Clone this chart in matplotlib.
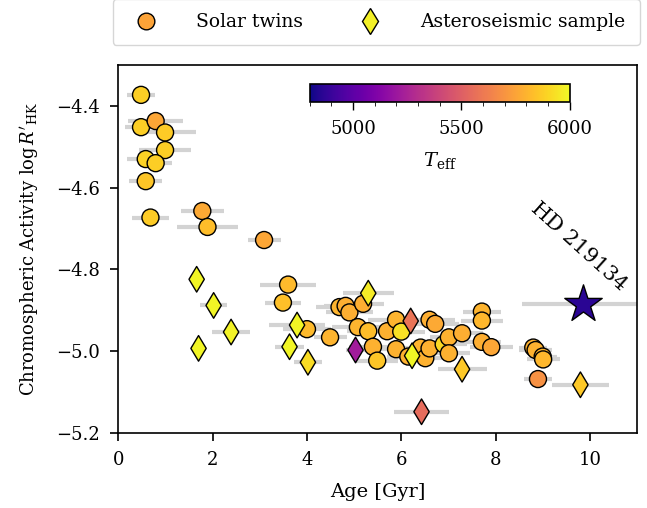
import numpy as np
import matplotlib
matplotlib.use("Agg")
import matplotlib.pyplot as plt
from matplotlib.lines import Line2D
from matplotlib.ticker import MultipleLocator

plt.rcParams['font.family'] = ['DejaVu Serif']
plt.rcParams['mathtext.fontset'] = 'dejavuserif'

# Solar twins: age [Gyr], age error, log R'HK, Teff
twin_age = [0.48, 0.48, 0.79, 0.99, 0.99, 0.58, 0.79, 0.58, 0.68, 1.78, 1.89, 3.09,
            3.60, 3.49, 4.00, 4.49, 4.69, 4.82, 4.90, 5.19, 5.08, 5.30, 5.40, 5.49,
            5.70, 5.89, 5.89, 6.00, 6.15, 6.41, 6.51, 6.60, 6.72, 6.60, 6.90, 7.01,
            7.01, 7.29, 7.71, 7.71, 7.71, 7.91, 8.80, 8.85, 9.00, 9.01, 8.90]
twin_err = [0.30, 0.35, 0.58, 0.65, 0.55, 0.40, 0.35, 0.35, 0.40, 0.45, 0.64, 0.35,
            0.60, 0.38, 0.50, 0.35, 0.50, 0.45, 0.50, 0.45, 0.55, 0.45, 0.50, 0.45,
            0.50, 0.60, 0.55, 0.50, 0.45, 0.50, 0.45, 0.55, 0.50, 0.40, 0.50, 0.40,
            0.45, 0.45, 0.40, 0.45, 0.40, 0.45, 0.30, 0.35, 0.30, 0.35, 0.30]
twin_rhk = [-4.373, -4.452, -4.437, -4.465, -4.508, -4.530, -4.540, -4.584, -4.673,
            -4.657, -4.696, -4.728, -4.837, -4.881, -4.946, -4.966, -4.892, -4.889,
            -4.905, -4.884, -4.941, -4.951, -4.989, -5.023, -4.951, -4.923, -4.995,
            -4.952, -5.013, -4.991, -5.017, -4.923, -4.933, -4.993, -4.983, -4.966,
            -5.005, -4.956, -4.903, -4.925, -4.977, -4.990, -4.991, -4.997, -5.013,
            -5.020, -5.068]
twin_teff = [5880, 5880, 5760, 5870, 5880, 5890, 5880, 5850, 5870, 5770, 5830, 5760,
             5820, 5840, 5820, 5800, 5800, 5780, 5780, 5780, 5800, 5830, 5790, 5850,
             5790, 5800, 5790, 5930, 5790, 5800, 5790, 5780, 5770, 5790, 5910, 5790,
             5790, 5780, 5800, 5810, 5780, 5760, 5790, 5790, 5800, 5810, 5690]

# Asteroseismic sample
astero_age = [1.66, 2.02, 2.39, 1.70, 3.79, 3.63, 4.02, 5.30, 5.03, 6.20, 6.23, 7.29, 6.43, 9.80]
astero_err = [0.15, 0.28, 0.40, 0.15, 0.60, 0.30, 0.30, 0.54, 0.20, 0.30, 0.30, 0.52, 0.58, 0.60]
astero_rhk = [-4.824, -4.888, -4.953, -4.993, -4.936, -4.989, -5.027, -4.858, -4.997,
              -4.926, -5.011, -5.044, -5.148, -5.082]
astero_teff = [5990, 5990, 5980, 5990, 5990, 5990, 5920, 5960, 5220, 5580, 5990, 5860, 5550, 5860]

# HD 219134
star_age, star_err, star_rhk, star_teff = 9.86, 1.3, -4.884, 4860

cmap = 'plasma'
vmin, vmax = 4800, 6000

fig = plt.figure(figsize=(6.47, 5.08), dpi=100)
ax = fig.add_axes([0.183, 0.1476, 0.8015, 0.7244])

err_kw = dict(fmt='none', ecolor='#d3d3d3', elinewidth=3, capsize=0, zorder=1)
ax.errorbar(twin_age, twin_rhk, xerr=twin_err, **err_kw)
ax.errorbar(astero_age, astero_rhk, xerr=astero_err, **err_kw)
ax.errorbar([star_age], [star_rhk], xerr=[star_err], **err_kw)

sc = ax.scatter(twin_age, twin_rhk, c=twin_teff, cmap=cmap, vmin=vmin, vmax=vmax,
                s=150, marker='o', edgecolors='black', linewidths=1.0, zorder=3)
ax.scatter(astero_age, astero_rhk, c=astero_teff, cmap=cmap, vmin=vmin, vmax=vmax,
           s=170, marker='d', edgecolors='black', linewidths=1.0, zorder=3)
ax.scatter([star_age], [star_rhk], c=[star_teff], cmap=cmap, vmin=vmin, vmax=vmax,
           s=800, marker='*', edgecolors='black', linewidths=1.0, zorder=4)

ax.text(star_age - 0.1, -4.745, 'HD 219134', rotation=-42, fontsize=15,
        ha='center', va='center')

ax.set_xlim(0, 11)
ax.set_ylim(-5.2, -4.3)
ax.set_yticks([-5.2, -5.0, -4.8, -4.6, -4.4])
ax.set_xticks([0, 2, 4, 6, 8, 10])
ax.tick_params(labelsize=13, length=6, width=1.2, pad=7)
for s in ax.spines.values():
    s.set_linewidth(1.2)
ax.set_xlabel('Age [Gyr]', fontsize=14, labelpad=10)
ax.set_ylabel(r"Chromospheric Activity $\log R'_{\mathrm{HK}}$", fontsize=13, labelpad=11)

# colorbar inside the axes
cax = ax.inset_axes([0.369, 0.900, 0.5015, 0.048])
cb = fig.colorbar(sc, cax=cax, orientation='horizontal')
cb.set_ticks([5000, 5500, 6000])
cb.ax.xaxis.set_minor_locator(MultipleLocator(100))
cb.ax.tick_params(labelsize=13, length=6, width=1.0, pad=7)
cb.ax.tick_params(which='minor', length=3)
cb.set_label(r'$T_{\mathrm{eff}}$', fontsize=14, labelpad=9)
cb.outline.set_linewidth(1.2)

handles = [
    Line2D([], [], marker='o', ls='none', markersize=12, markerfacecolor=plt.get_cmap(cmap)(0.79),
           markeredgecolor='black', label='Solar twins'),
    Line2D([], [], marker='d', ls='none', markersize=13, markerfacecolor=plt.get_cmap(cmap)(0.98),
           markeredgecolor='black', label='Asteroseismic sample'),
]
ax.legend(handles=handles, loc='lower left', bbox_to_anchor=(-0.011, 1.054, 1.016, 0.1),
          mode='expand', borderaxespad=0, ncol=2, fontsize=13.5, frameon=True,
          borderpad=0.75, handletextpad=1.7)

fig.savefig('out.png', dpi=100)
